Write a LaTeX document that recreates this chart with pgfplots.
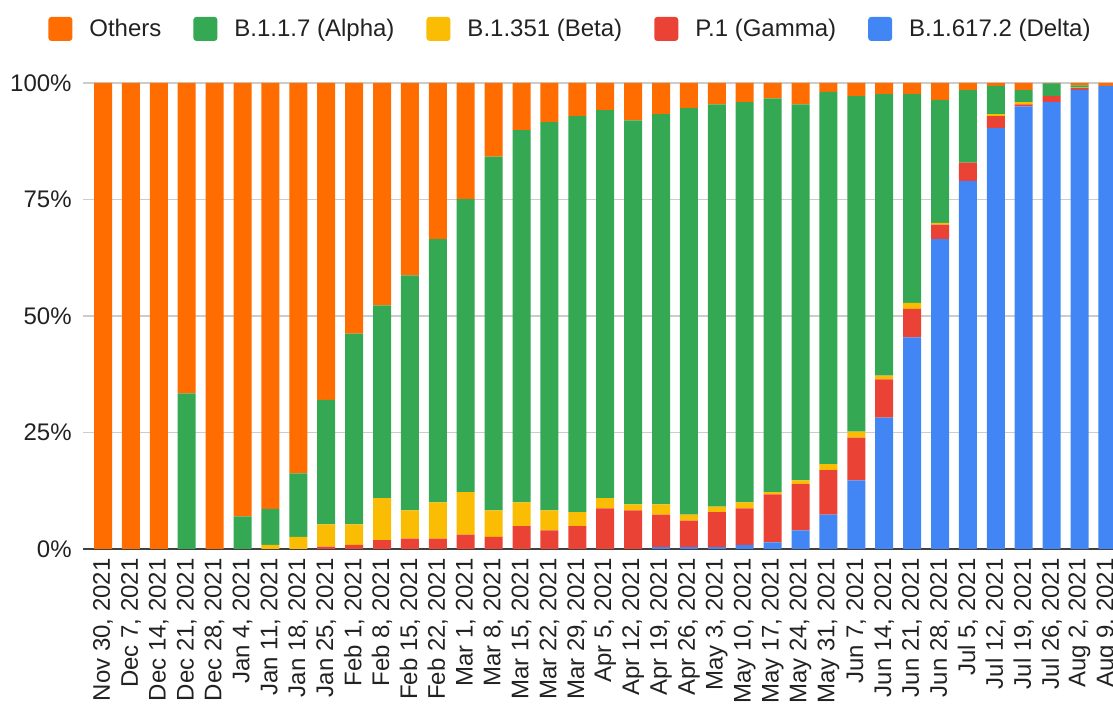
\documentclass[border=0pt]{standalone}
\usepackage{fontspec}
\setmainfont{Liberation Sans}
\usepackage{pgfplots}
\usepackage{pgfplotstable}
\pgfplotsset{compat=1.18}
\definecolor{cOthers}{HTML}{FF6D01}
\definecolor{cAlpha}{HTML}{34A853}
\definecolor{cBeta}{HTML}{FBBC04}
\definecolor{cGamma}{HTML}{EA4335}
\definecolor{cDelta}{HTML}{4285F4}
\definecolor{ctext}{HTML}{222222}

\pgfplotstableread{
x delta gamma beta alpha others
0 0 0 0 0 100
1 0 0 0 0 100
2 0 0 0 0 100
3 0 0 0 33.4 66.6
4 0 0 0 0 100
5 0 0 0 7.0 93.0
6 0 0 0.9 7.7 91.4
7 0 0 2.6 13.6 83.8
8 0 0.5 4.8 26.7 68.0
9 0 0.9 4.4 40.9 53.8
10 0 1.9 9.0 41.4 47.7
11 0 2.2 6.1 50.4 41.3
12 0 2.2 7.8 56.5 33.5
13 0 3.1 9.1 62.9 24.9
14 0 2.6 5.7 75.9 15.8
15 0 4.9 5.1 79.9 10.1
16 0 4.0 4.3 83.3 8.4
17 0 4.9 3.0 85.0 7.1
18 0 8.7 2.2 83.3 5.8
19 0 8.3 1.3 82.4 8.0
20 0.4 7.0 2.2 83.7 6.7
21 0.4 5.7 1.3 87.2 5.4
22 0.4 7.5 1.2 86.3 4.6
23 0.9 7.8 1.3 85.9 4.1
24 1.4 10.3 0.5 84.5 3.3
25 4.0 9.9 0.8 80.7 4.6
26 7.4 9.5 1.3 79.9 1.9
27 14.7 9.2 1.3 72.0 2.8
28 28.2 8.2 0.8 60.4 2.4
29 45.4 6.1 1.3 44.8 2.4
30 66.5 3.1 0.4 26.4 3.6
31 79.0 3.9 0.0 15.6 1.5
32 90.3 2.6 0.4 6.1 0.6
33 95.0 0.4 0.5 2.6 1.5
34 95.9 1.3 0.0 2.7 0.1
35 98.5 0.4 0.1 0.5 0.5
36 99.4 0 0 0 0.6
}\datatable

\pgfplotsset{
  sqlegend/.style={legend image code/.code={%
    \fill[##1, rounded corners=1.5pt] (0pt,-6pt) rectangle (12pt,6pt);}},
}

\begin{document}
\begin{tikzpicture}
\begin{axis}[
  at={(41.5pt,77.5pt)}, anchor=south west,
  scale only axis, width=515pt, height=233pt,
  ybar stacked, bar width=9pt,
  xmin=-0.717, xmax=36.2, ymin=0, ymax=100,
  xtick={0,...,36},
  xticklabels={{Nov 30, 2021},{Dec 7, 2021},{Dec 14, 2021},{Dec 21, 2021},{Dec 28, 2021},{Jan 4, 2021},{Jan 11, 2021},{Jan 18, 2021},{Jan 25, 2021},{Feb 1, 2021},{Feb 8, 2021},{Feb 15, 2021},{Feb 22, 2021},{Mar 1, 2021},{Mar 8, 2021},{Mar 15, 2021},{Mar 22, 2021},{Mar 29, 2021},{Apr 5, 2021},{Apr 12, 2021},{Apr 19, 2021},{Apr 26, 2021},{May 3, 2021},{May 10, 2021},{May 17, 2021},{May 24, 2021},{May 31, 2021},{Jun 7, 2021},{Jun 14, 2021},{Jun 21, 2021},{Jun 28, 2021},{Jul 5, 2021},{Jul 12, 2021},{Jul 19, 2021},{Jul 26, 2021},{Aug 2, 2021},{Aug 9, 2021}},
  ytick={0,25,50,75,100},
  yticklabels={0\%,25\%,50\%,75\%,100\%},
  ymajorgrids,
  grid style={color=black!20, line width=0.7pt},
  axis x line*=bottom, axis y line*=left,
  x axis line style={-, draw=black!75, line width=1pt},
  y axis line style={draw=none},
  major tick length=0pt,
  tick label style={font=\fontsize{12}{14}\selectfont, text=ctext},
  xticklabel style={rotate=90, anchor=east, inner sep=0pt},
  xticklabel shift=4.5pt,
  yticklabel style={anchor=east, inner sep=0pt},
  yticklabel shift=5.5pt,
  reverse legend,
  legend columns=5,
  legend style={
    at={(-0.034,1.116)}, anchor=west,
    draw=none, fill=none, inner sep=0pt,
    font=\fontsize{12}{14}\selectfont, text=ctext,
    /tikz/every odd column/.append style={column sep=6.5pt},
    /tikz/every even column/.append style={column sep=14pt},
  },
]
\addplot[fill=cDelta, draw=none, sqlegend] table[x=x, y=delta] {\datatable};
\addplot[fill=cGamma, draw=none, sqlegend] table[x=x, y=gamma] {\datatable};
\addplot[fill=cBeta, draw=none, sqlegend] table[x=x, y=beta] {\datatable};
\addplot[fill=cAlpha, draw=none, sqlegend] table[x=x, y=alpha] {\datatable};
\addplot[fill=cOthers, draw=none, sqlegend] table[x=x, y=others] {\datatable};
\legend{B.1.617.2 (Delta),P.1 (Gamma),B.1.351 (Beta),B.1.1.7 (Alpha),Others}
\end{axis}
\pgfresetboundingbox
\path (0,0) rectangle (556.5pt,352pt);
\end{tikzpicture}
\end{document}
